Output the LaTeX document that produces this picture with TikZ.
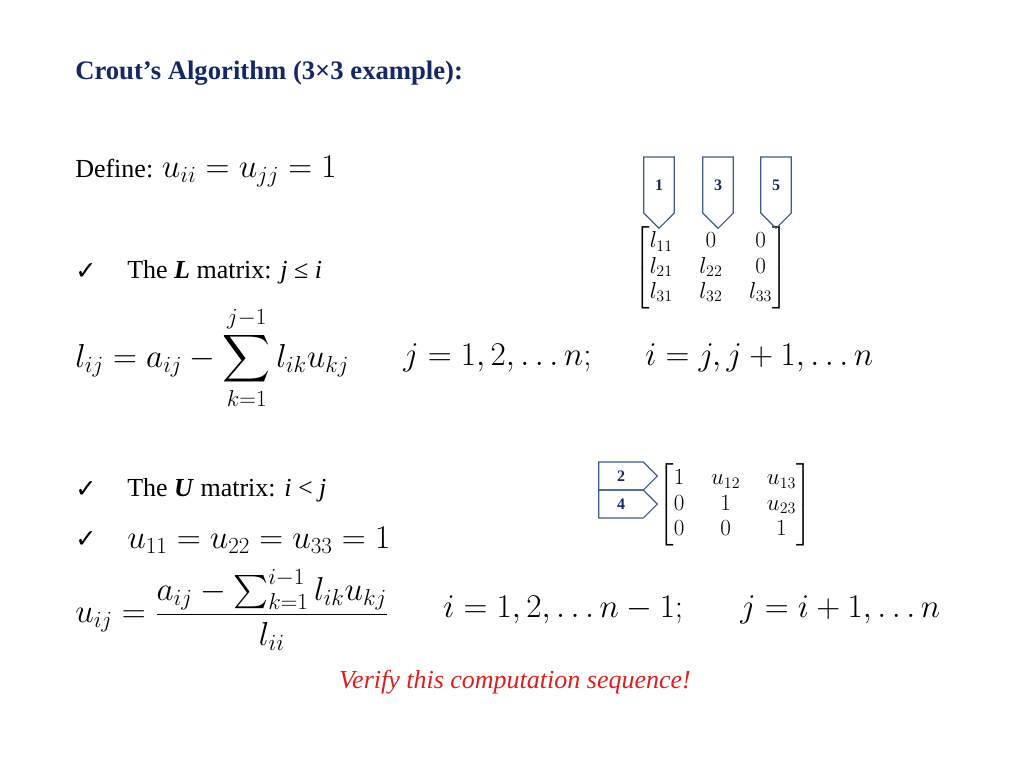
\documentclass[tikz,border=0pt]{standalone}
\usepackage{amsmath}
\usepackage{fontspec}
\setmainfont{Liberation Serif}
\newfontfamily\symfont{DejaVu Sans}
\usetikzlibrary{shapes.symbols}
\definecolor{navy}{RGB}{22,40,100}
\definecolor{boxline}{RGB}{60,90,140}
\definecolor{redtext}{RGB}{225,30,30}
\newcommand\bigmath[1]{{\fontsize{23}{27}\selectfont$#1$}}
\tikzset{
  txt/.style={anchor=west, inner sep=0pt, font=\fontsize{19.5}{23}\selectfont},
  chk/.style={anchor=west, inner sep=0pt, font=\symfont\fontsize{19}{22}\selectfont},
  tagdown/.style={draw=boxline, line width=0.9pt, signal, signal to=south, minimum width=23pt, minimum height=45pt, inner sep=0pt, text=navy, font=\bfseries\fontsize{12}{14}\selectfont},
  tagright/.style={draw=boxline, line width=0.9pt, signal, signal to=east, minimum width=44pt, minimum height=21pt, inner sep=0pt, text=navy, font=\bfseries\fontsize{12}{14}\selectfont},
  mat/.style={inner sep=0pt, font=\fontsize{16.5}{19}\selectfont\setlength\arraycolsep{10pt}}
}
\begin{document}
\begin{tikzpicture}[x=0.75pt,y=-0.75pt]
        \useasboundingbox (0,0) rectangle (1024,768);

        % Title
        \node[txt, font=\bfseries\fontsize{20}{24}\selectfont, text=navy] (title) at (75,73) {Crout’s Algorithm (3×3 example):};
        \node[txt] (define) at (75,172) {Define: \bigmath{u_{ii}=u_{jj}=1}};

        % L part
        \node[chk] (chkL) at (75,272) {✓};
        \node[txt] (Lrule) at (127,272) {The \textbf{\textit{L}} matrix: \textit{j} ≤ \textit{i}};
        \node[txt] (Leq) at (75,358) {\bigmath{\displaystyle l_{ij}=a_{ij}-\sum_{k=1}^{j-1} l_{ik}u_{kj}}};
        \node[txt] (Lj) at (403,358) {\bigmath{j=1,2,\dots n;}};
        \node[txt] (Li) at (645,358) {\bigmath{i=j,j+1,\dots n}};

        % L matrix with order tags
        \node[mat] (Lmat) at (711,268) {$\begin{bmatrix} l_{11} & 0 & 0\\ l_{21} & l_{22} & 0\\ l_{31} & l_{32} & l_{33}\end{bmatrix}$};
        \node[tagdown] (t1) at (659,185) {1};
        \node[tagdown] (t3) at (718,185) {3};
        \node[tagdown] (t5) at (776,185) {5};

        % U part
        \node[chk] (chkU) at (75,490) {✓};
        \node[txt] (Urule) at (127,490) {The \textbf{\textit{U}} matrix: \textit{i} < \textit{j}};
        \node[chk] (chkD) at (75,540) {✓};
        \node[txt] (Udiag) at (127,540) {\bigmath{u_{11}=u_{22}=u_{33}=1}};
        \node[txt] (Ueq) at (75,610) {\bigmath{\displaystyle u_{ij}=\frac{a_{ij}-\sum_{k=1}^{i-1} l_{ik}u_{kj}}{l_{ii}}}};
        \node[txt] (Ui) at (443,610) {\bigmath{i=1,2,\dots n-1;}};
        \node[txt] (Uj) at (740,610) {\bigmath{j=i+1,\dots n}};

        % U matrix with order tags
        \node[mat] (Umat) at (735,505) {$\begin{bmatrix} 1 & u_{12} & u_{13}\\ 0 & 1 & u_{23}\\ 0 & 0 & 1\end{bmatrix}$};
        \node[tagright] (t2) at (621,476) {2};
        \node[tagright] (t4) at (621,504) {4};

        \node[inner sep=0pt, text=redtext, font=\itshape\fontsize{19.5}{23}\selectfont] (note) at (515,682) {Verify this computation sequence!};
\end{tikzpicture}
\end{document}
